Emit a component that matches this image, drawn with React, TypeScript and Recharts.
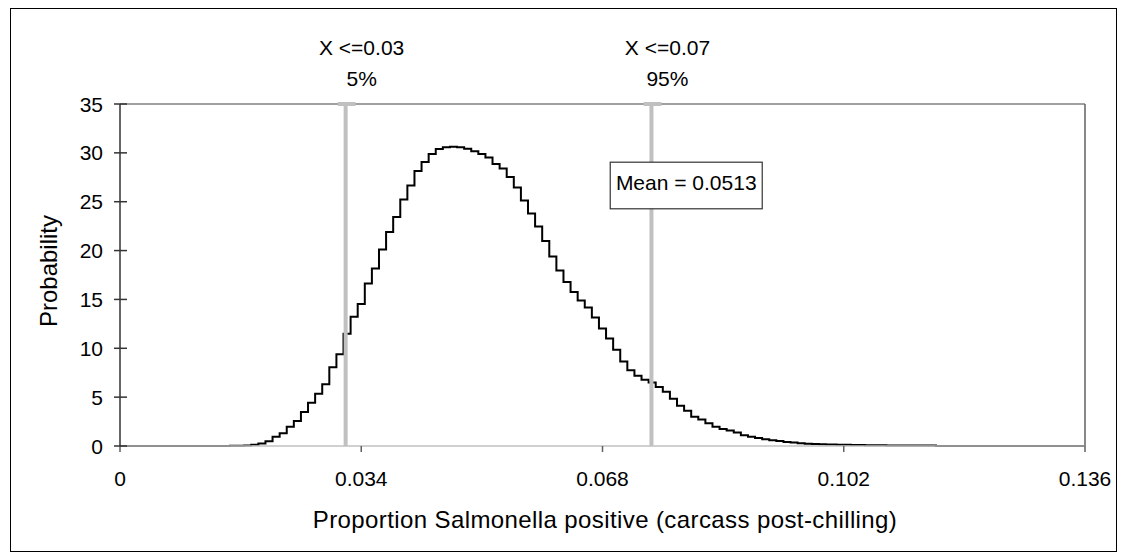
import React from 'react';
import { LineChart, Line, XAxis, YAxis, ReferenceLine, ReferenceDot } from 'recharts';

const FONT = '"Liberation Sans", Arial, Helvetica, sans-serif';

// x values (proportion) and probability density
const xValues = [
  0, 0.01, 0.015, 0.016, 0.017, 0.018, 0.019, 0.02, 0.021, 0.022, 0.023, 0.024, 0.025,
  0.026, 0.027, 0.028, 0.029, 0.03, 0.031, 0.032, 0.033, 0.034, 0.035, 0.036, 0.037,
  0.038, 0.039, 0.04, 0.041, 0.042, 0.043, 0.044, 0.045, 0.046, 0.047, 0.048, 0.049,
  0.05, 0.051, 0.052, 0.053, 0.054, 0.055, 0.056, 0.057, 0.058, 0.059, 0.06, 0.061,
  0.062, 0.063, 0.064, 0.065, 0.066, 0.067, 0.068, 0.069, 0.07, 0.071, 0.072, 0.073,
  0.074, 0.075, 0.076, 0.077, 0.078, 0.079, 0.08, 0.081, 0.082, 0.083, 0.084, 0.085,
  0.086, 0.087, 0.088, 0.089, 0.09, 0.091, 0.092, 0.093, 0.094, 0.095, 0.096, 0.097,
  0.098, 0.099, 0.1, 0.102, 0.104, 0.106, 0.11, 0.114, 0.116, 0.136,
];
const probability = [
  0, 0, 0, 0.02, 0.03, 0.05, 0.12, 0.25, 0.48, 0.95, 1.3, 1.96, 2.56,
  3.48, 4.42, 5.35, 6.33, 8.05, 9.38, 11.5, 13.23, 14.54, 16.64, 18.17, 20.11,
  21.9, 23.44, 25.22, 26.66, 28.14, 29.06, 29.88, 30.39, 30.57, 30.63, 30.58, 30.42,
  30.17, 29.88, 29.52, 28.86, 28.4, 27.53, 26.45, 25.12, 23.79, 22.46, 20.98, 19.4,
  17.96, 16.79, 15.77, 14.9, 14.18, 13.16, 12.03, 11.01, 9.84, 8.66, 7.74, 7.18,
  6.77, 6.51, 6.05, 5.54, 4.83, 4.11, 3.6, 2.99, 2.71, 2.32, 1.96, 1.73,
  1.58, 1.38, 1.09, 0.94, 0.81, 0.7, 0.58, 0.5, 0.41, 0.35, 0.28, 0.24,
  0.2, 0.17, 0.15, 0.13, 0.1, 0.07, 0.06, 0.04, 0, 0,
];

const xTicks = [0, 0.034, 0.068, 0.102, 0.136];
const yTicks = [0, 5, 10, 15, 20, 25, 30, 35];

const markerX = [0.0318, 0.0749];
const markerTop = ['X <=0.03', 'X <=0.07'];
const markerBottom = ['5%', '95%'];

const meanLabel = 'Mean = 0.0513';
const meanBoxX = 0.0798;
const meanBoxY = 26.66;

const xTitle = 'Proportion Salmonella positive (carcass post-chilling)';
const yTitle = 'Probability';

const data = xValues.map((x, i) => ({ x, p: probability[i] }));

const XTick = (props: any) => {
  const { x, y, payload } = props;
  return (
    <g>
      <line x1={x} x2={x} y1={y} y2={y + 6} stroke="#606060" strokeWidth={1.5} />
      <text x={x} y={y + 39.5} textAnchor="middle" fontSize={21} fill="#000" fontFamily={FONT}>
        {String(payload.value)}
      </text>
    </g>
  );
};

const YTick = (props: any) => {
  const { x, y, payload } = props;
  return (
    <g>
      <line x1={x - 6} x2={x + 7} y1={y} y2={y} stroke="#333" strokeWidth={1.5} />
      <text x={x - 17} y={y + 7.5} textAnchor="end" fontSize={21} fill="#000" fontFamily={FONT}>
        {String(payload.value)}
      </text>
    </g>
  );
};

const XTitle = (props: any) => {
  const vb = props.viewBox || { x: 112, y: 438, width: 965, height: 60 };
  return (
    <text
      x={vb.x + vb.width / 2 + 2.5}
      y={vb.y + 82}
      textAnchor="middle"
      fontSize={24}
      letterSpacing={0.4}
      fill="#000"
      fontFamily={FONT}
    >
      {xTitle}
    </text>
  );
};

const YTitle = (props: any) => {
  const vb = props.viewBox || { x: 32, y: 96, width: 80, height: 342 };
  const cx = vb.x + 17;
  const cy = vb.y + vb.height / 2 - 4;
  return (
    <text
      x={cx}
      y={cy}
      transform={`rotate(-90 ${cx} ${cy})`}
      textAnchor="middle"
      fontSize={24}
      fill="#000"
      fontFamily={FONT}
    >
      {yTitle}
    </text>
  );
};

const makeMarkerLabel = (i: number) => (props: any) => {
  const vb = props.viewBox || { x: 0, y: 0 };
  const cx = vb.x + 16;
  return (
    <g>
      <text x={cx} y={vb.y - 49.5} textAnchor="middle" fontSize={21} fill="#000" fontFamily={FONT}>
        {markerTop[i]}
      </text>
      <text x={cx} y={vb.y - 18.5} textAnchor="middle" fontSize={21} fill="#000" fontFamily={FONT}>
        {markerBottom[i]}
      </text>
    </g>
  );
};

const MeanBox = (props: any) => {
  const { cx, cy } = props;
  return (
    <g>
      <rect x={cx - 76} y={cy - 23.3} width={152} height={46.6} fill="#fff" stroke="#333" strokeWidth={1.2} />
      <text x={cx} y={cy + 5} textAnchor="middle" fontSize={21} fill="#000" fontFamily={FONT}>
        {meanLabel}
      </text>
    </g>
  );
};

export default function App() {
  return (
    <div style={{ position: 'relative', width: 1110, height: 545 }}>
      <div
        style={{
          position: 'absolute',
          left: 2,
          top: 0,
          width: 1105,
          height: 542,
          border: '1px solid #000',
        }}
      />
      <div style={{ position: 'absolute', left: 0, top: 0 }}>
        <LineChart
          width={1110}
          height={545}
          data={data}
          margin={{ top: 96, right: 33, bottom: 47, left: 32 }}
          style={{ fontFamily: FONT }}
        >
          <XAxis
            dataKey="x"
            type="number"
            domain={[0, 0.136]}
            ticks={xTicks}
            height={60}
            tickSize={0}
            tickMargin={0}
            tickLine={false}
            tick={<XTick />}
            axisLine={{ stroke: '#c0c0c0', strokeWidth: 1.5 }}
            label={XTitle}
          />
          <YAxis
            type="number"
            domain={[0, 35]}
            ticks={yTicks}
            width={80}
            tickSize={0}
            tickMargin={0}
            tickLine={false}
            tick={<YTick />}
            axisLine={{ stroke: '#333', strokeWidth: 1.5 }}
            label={YTitle}
          />
          <ReferenceLine y={35} stroke="#808080" strokeWidth={1.5} />
          <ReferenceLine x={0.136} stroke="#606060" strokeWidth={1.5} />
          <Line
            type="step"
            dataKey="p"
            stroke="#000"
            strokeWidth={2}
            dot={false}
            activeDot={false}
            isAnimationActive={false}
          />
          {markerX.map((mx, i) => (
            <ReferenceLine
              key={'m' + i}
              x={mx}
              stroke="#c0c0c0"
              strokeWidth={4}
              label={makeMarkerLabel(i)}
            />
          ))}
          {markerX.map((mx, i) => (
            <ReferenceLine
              key={'c' + i}
              segment={[
                { x: mx - 0.0011, y: 35 },
                { x: mx + 0.0014, y: 35 },
              ]}
              stroke="#c0c0c0"
              strokeWidth={4}
              ifOverflow="visible"
            />
          ))}
          <ReferenceDot x={meanBoxX} y={meanBoxY} r={0} shape={<MeanBox />} ifOverflow="visible" />
        </LineChart>
      </div>
    </div>
  );
}
